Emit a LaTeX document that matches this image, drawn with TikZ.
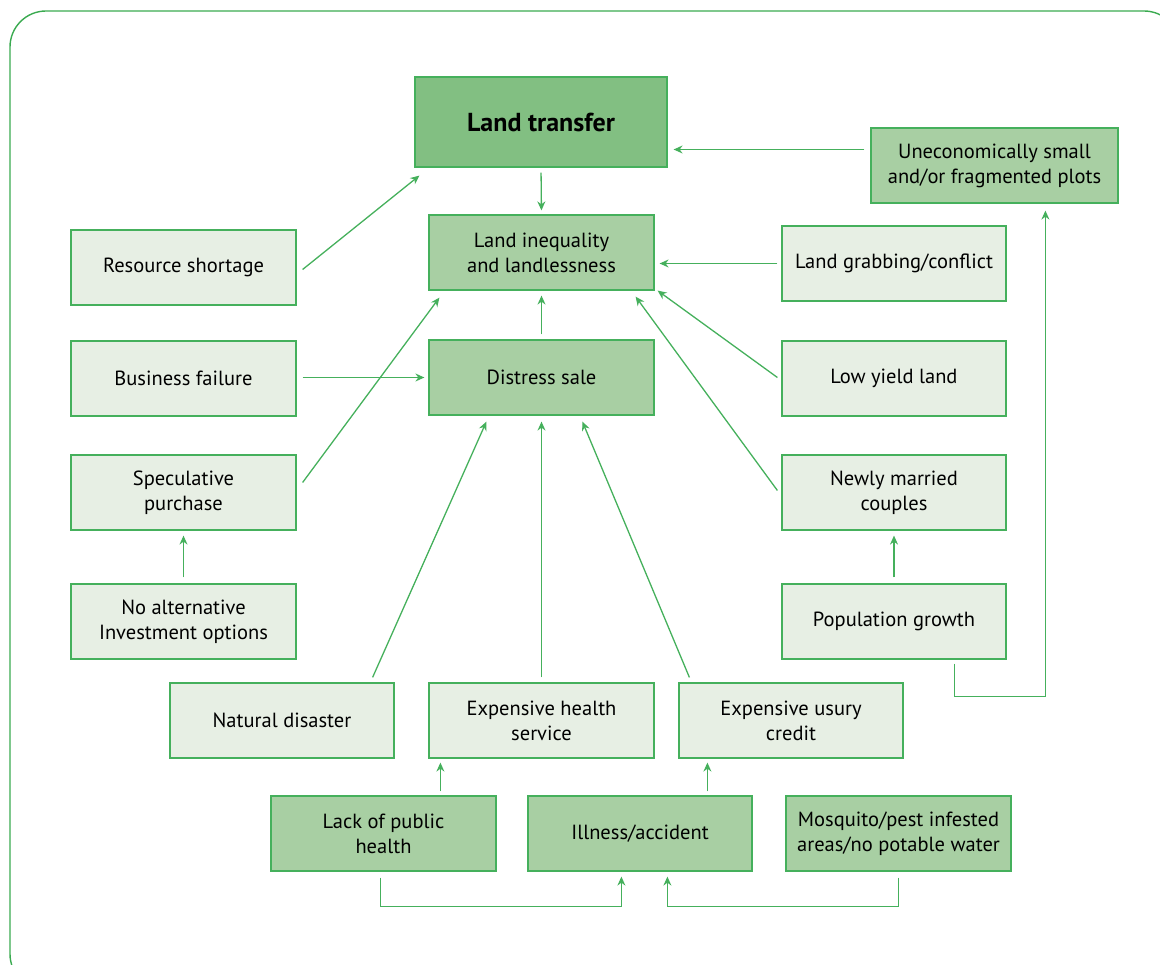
\documentclass[tikz,border=0pt]{standalone}
\usepackage{fontspec}
\setmainfont{PT Sans}
\usetikzlibrary{calc,arrows.meta}
\definecolor{frameg}{HTML}{3AAA50}
\definecolor{lineg}{HTML}{45B05C}
\definecolor{darkf}{HTML}{82BF82}
\definecolor{medf}{HTML}{A8CFA3}
\definecolor{lightf}{HTML}{E7EFE4}
\tikzset{
  box/.style={draw=lineg, line width=1.2pt, minimum width=225pt, minimum height=75pt,
    inner sep=0pt, align=center, font=\fontsize{20.5}{25}\selectfont, text=black},
  lbox/.style={box, fill=lightf},
  mbox/.style={box, fill=medf},
  conn/.style={draw=lineg, line width=1.3pt, -{Stealth[length=9pt,width=8pt]}},
}
\begin{document}
\begin{tikzpicture}[x=1pt,y=-1pt]
\useasboundingbox (0,0) rectangle (1160,965);
\begin{scope}
\clip (0,0) rectangle (1160,965);
\draw[frameg, line width=1.4pt, rounded corners=36pt] (10,11) rectangle (1180,990);
\end{scope}
% nodes (centres in pixel coordinates)
\node[box, fill=darkf, minimum width=252pt, minimum height=90pt,
  font=\fontsize{26}{30}\selectfont\bfseries] (lt) at (541,122) {Land transfer};
\node[mbox, minimum width=247pt] (up) at (994.5,165.5) {Uneconomically small\\and/or fragmented plots};
\node[mbox] (li) at (541.5,252.5) {Land inequality\\and landlessness};
\node[lbox] (rs) at (183.5,267.5) {Resource shortage};
\node[lbox, minimum width=224pt] (lg) at (894,263.5) {Land grabbing/conflict};
\node[lbox] (bf) at (183.5,378.5) {Business failure};
\node[mbox] (ds) at (541.5,377.5) {Distress sale};
\node[lbox, minimum width=224pt] (ly) at (894,378.5) {Low yield land};
\node[lbox] (sp) at (183.5,492.5) {Speculative\\purchase};
\node[lbox, minimum width=224pt] (nm) at (894,492.5) {Newly married\\couples};
\node[lbox] (na) at (183.5,621.5) {No alternative\\Investment options};
\node[lbox, minimum width=224pt] (pg) at (894,621.5) {Population growth};
\node[lbox, minimum width=224pt] (nd) at (282,720.5) {Natural disaster};
\node[lbox] (eh) at (541.5,720.5) {Expensive health\\service};
\node[lbox, minimum width=224pt] (eu) at (791,720.5) {Expensive usury\\credit};
\node[mbox] (lp) at (383.5,833.5) {Lack of public\\health};
\node[mbox, minimum width=224pt] (il) at (640,833.5) {Illness/accident};
\node[mbox] (mq) at (898.5,833.5) {Mosquito/pest infested\\areas/no potable water};
% connectors
\draw[conn, shorten <=5pt, shorten >=4pt] (lt.south) -- (li.north);
\draw[conn] ($(up.west)+(-6,-16)$) -- ($(lt.east |- up.west)+(6,-16)$);
\draw[conn] ($(rs.east)+(6,2)$) -- ($(lt.south west)+(5,8)$);
\draw[conn] ($(lg.west)+(-4,0)$) -- ($(li.east |- lg.west)+(5,0)$);
\draw[conn, shorten <=5pt, shorten >=5pt] (ds.north) -- (li.south);
\draw[conn] ($(ly.west)+(-4,-1)$) -- ($(li.south east)+(3,0)$);
\draw[conn] ($(nm.west)+(-4,-2)$) -- ($(li.south east)+(-19,6)$);
\draw[conn] ($(sp.east)+(6,-10)$) -- ($(li.south west)+(11,7)$);
\draw[conn] ($(bf.east)+(6,-1)$) -- ($(ds.west)+(-4,0)$);
\draw[conn, shorten <=6pt, shorten >=5pt] (na.north) -- (sp.south);
\draw[conn, shorten <=6pt, shorten >=5pt] (pg.north) -- (nm.south);
\draw[conn] ($(nd.north east)+(-22,-5)$) -- ($(ds.south west)+(58,6)$);
\draw[conn, shorten <=5pt, shorten >=6pt] (eh.north) -- (ds.south);
\draw[conn] ($(eu.north west)+(11,-5)$) -- ($(ds.south west)+(154,6)$);
\draw[conn] ($(lp.north west)+(170,-4)$) -- ($(eh.south west)+(12,4)$);
\draw[conn] ($(il.north west)+(180,-4)$) -- ($(eu.south west)+(29,4)$);
\draw[conn] ($(lp.south west)+(110,6)$) -- ++(0,29) -| ($(il.south west)+(94,5)$);
\draw[conn] ($(mq.south west)+(113,6)$) -- ++(0,29) -| ($(il.south west)+(140,5)$);
\draw[conn] ($(pg.south west)+(173,4)$) -- ++(0,33) -| ($(up.south west)+(175,7)$);
\end{tikzpicture}
\end{document}
